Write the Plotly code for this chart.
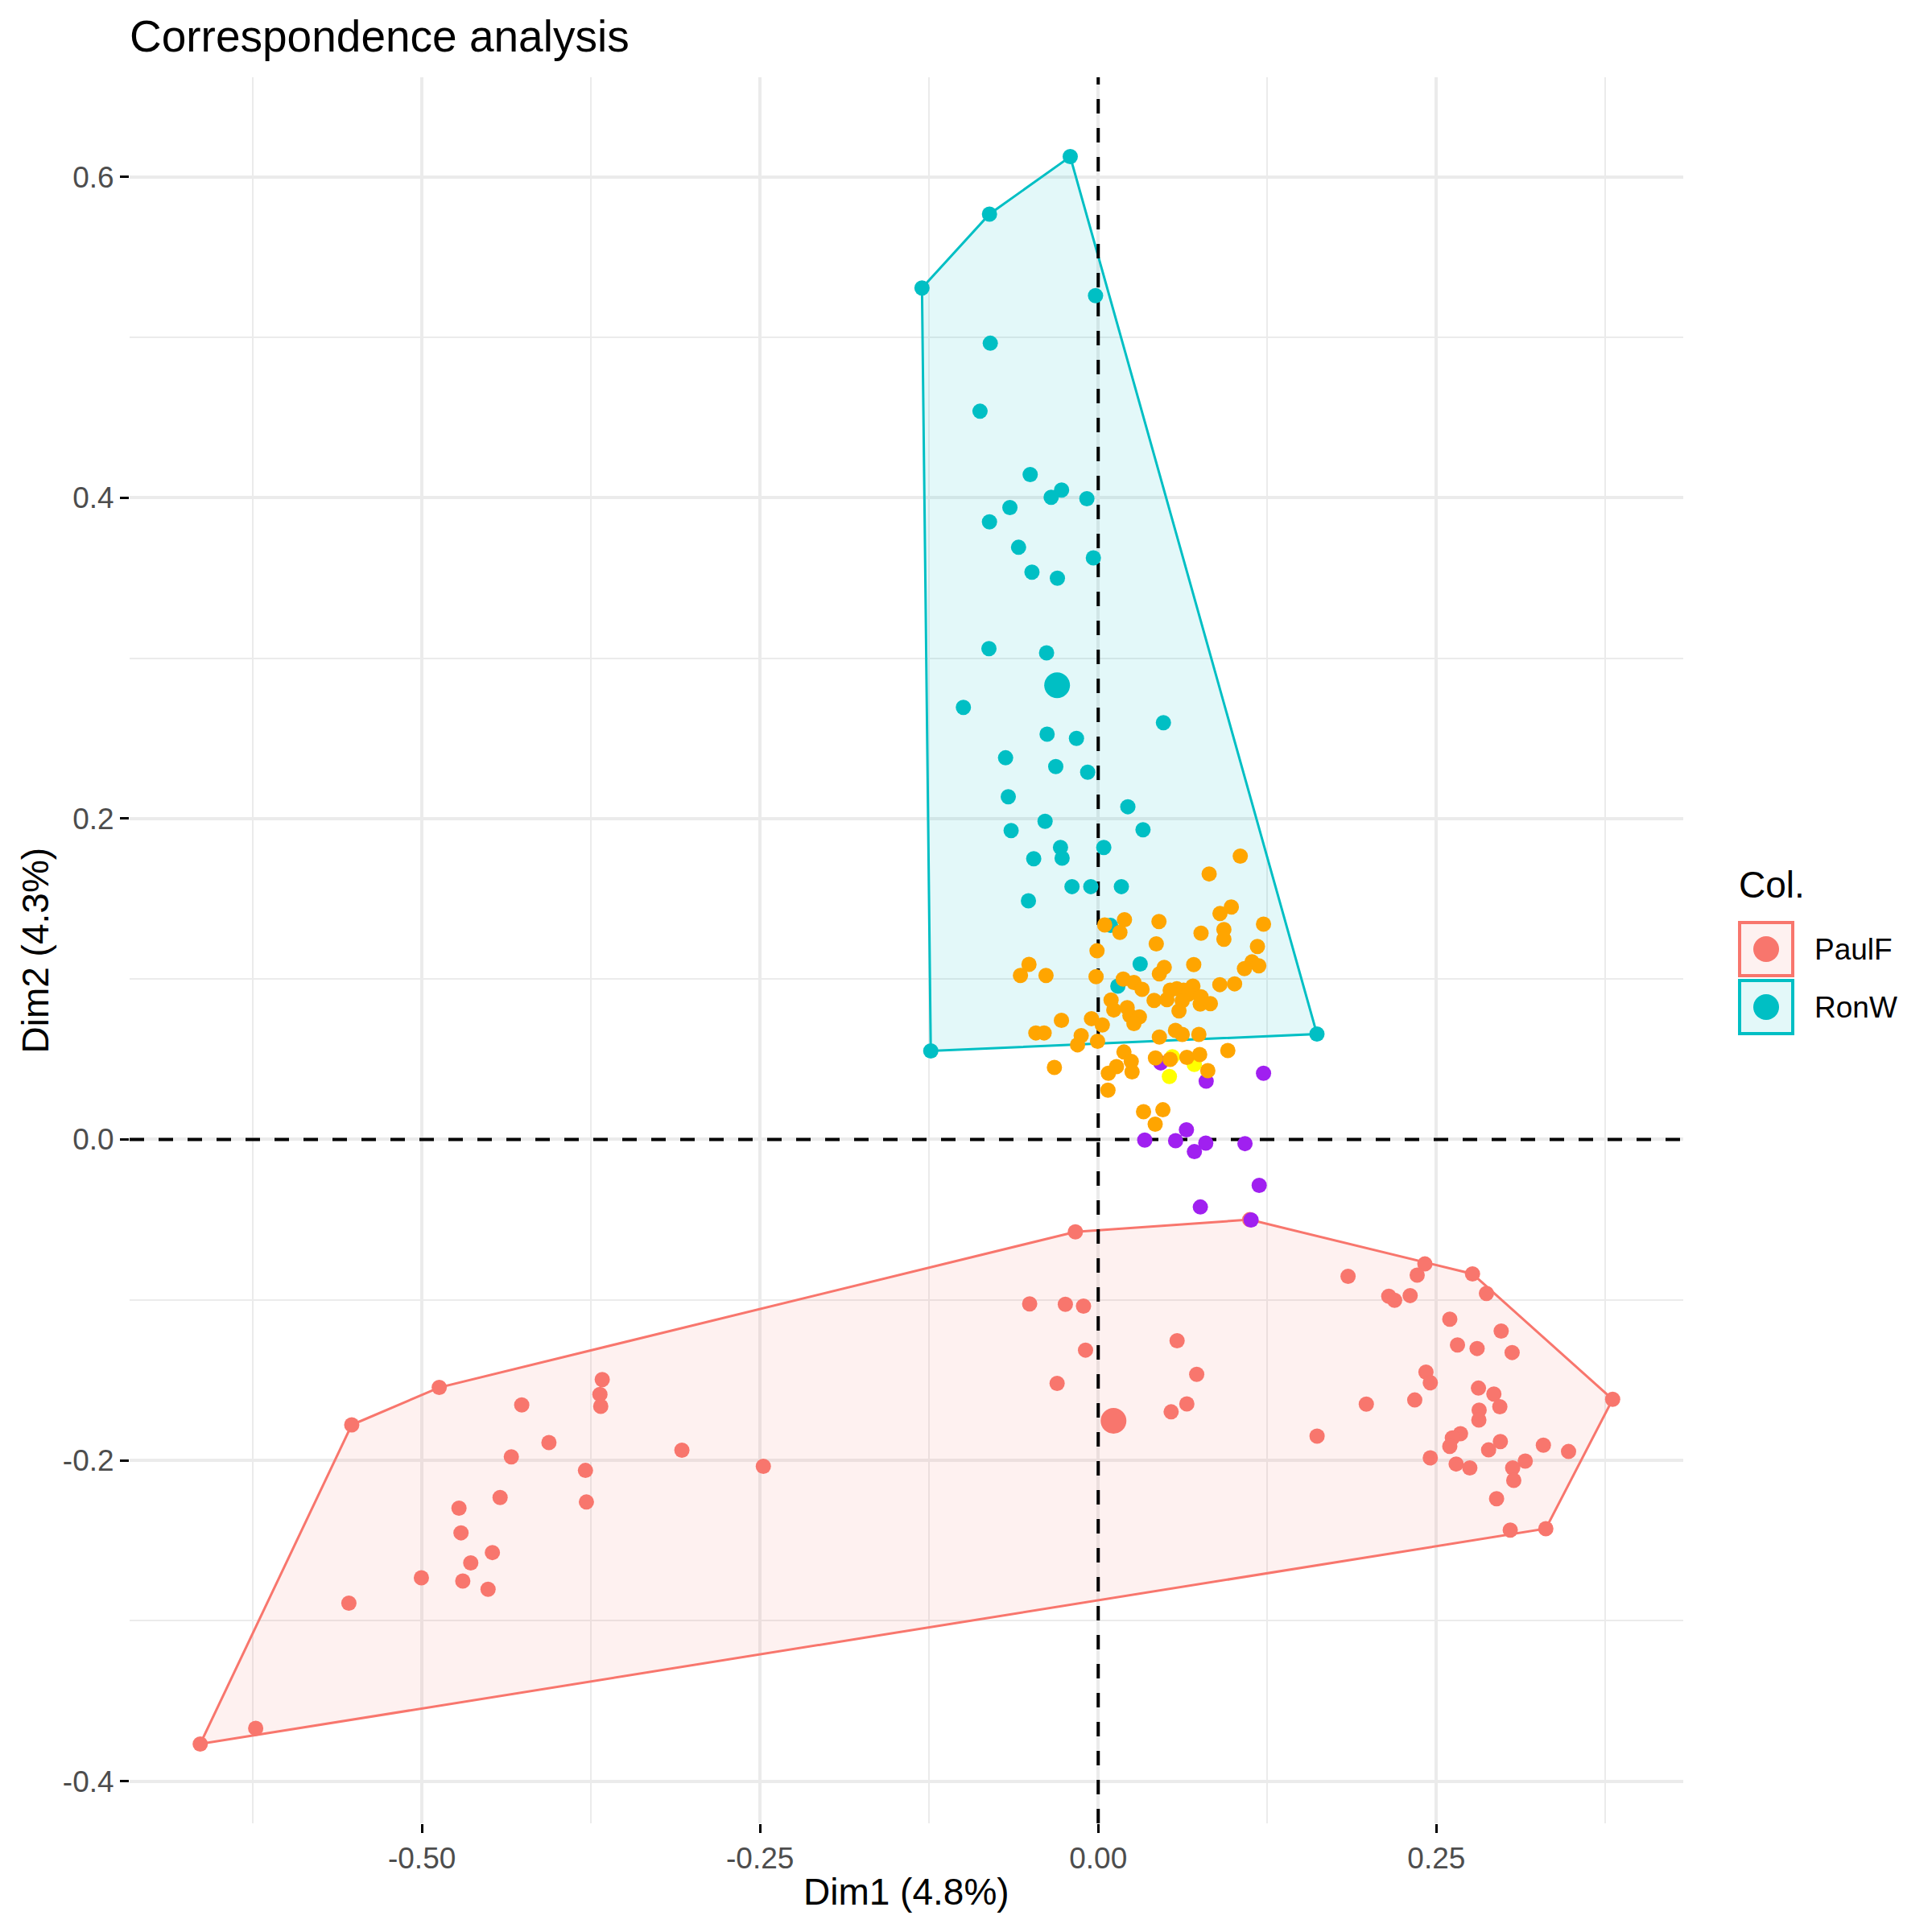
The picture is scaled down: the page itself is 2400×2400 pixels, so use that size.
import plotly.graph_objects as go

# --- Row coordinates, PaulF group ---
paulf_x = [-0.6639, -0.6229, -0.5519, -0.4872, -0.3667, -0.3684, -0.3678, -0.4262, -0.4061,
           -0.4339, -0.3791, -0.3784, -0.4422, -0.4726, -0.4711, -0.4479, -0.4639, -0.5004,
           -0.4698, -0.4511, -0.5540, -0.3078, -0.2476,
           -0.0169, -0.0507, -0.0243, -0.0109, -0.0094, 0.0583, -0.0304, 0.0728, 0.0655, 0.0539,
           0.1120,
           0.2415, 0.2767, 0.1847, 0.2358, 0.2148, 0.2191, 0.2306, 0.2870, 0.2599, 0.2979,
           0.2656, 0.2801, 0.3060, 0.2423, 0.2455, 0.2811, 0.2925, 0.2969, 0.3803, 0.1982,
           0.2340, 0.2816, 0.2814, 0.1618, 0.2678, 0.2618, 0.2599, 0.2455, 0.2973, 0.2886,
           0.3291, 0.3477, 0.2646, 0.2747, 0.3157, 0.3064, 0.3072, 0.2945, 0.3046, 0.3309]
paulf_y = [-0.3768, -0.3670, -0.1779, -0.1546, -0.1497, -0.1589, -0.1664, -0.1655, -0.1889,
           -0.1978, -0.2063, -0.2260, -0.2232, -0.2298, -0.2452, -0.2575, -0.2639, -0.2732,
           -0.2752, -0.2804, -0.2890, -0.1937, -0.2037,
           -0.0576, -0.1025, -0.1028, -0.1039, -0.1313, -0.1255, -0.1521, -0.1464, -0.1648, -0.1698,
           -0.0500,
           -0.0776, -0.0838, -0.0853, -0.0846, -0.0977, -0.1002, -0.0973, -0.0960, -0.1120, -0.1194,
           -0.1281, -0.1303, -0.1328, -0.1450, -0.1517, -0.1550, -0.1587, -0.1666, -0.1620, -0.1650,
           -0.1624, -0.1687, -0.1749, -0.1849, -0.1834, -0.1860, -0.1913, -0.1985, -0.1883, -0.1935,
           -0.1906, -0.1945, -0.2023, -0.2047, -0.2005, -0.2047, -0.2125, -0.2239, -0.2435, -0.2426]
paulf_mean_x = [0.0113]
paulf_mean_y = [-0.1754]

# --- Row coordinates, RonW group ---
ronw_x = [-0.0207, -0.0804, -0.1303, -0.0020, -0.0798, -0.0874, -0.0503, -0.0271, -0.0348,
          -0.0084, -0.0653, -0.0804, -0.0589, -0.0036, -0.0490, -0.0302, -0.0808, -0.0382,
          -0.0997, 0.0482, -0.0378, -0.0161, -0.0685, -0.0314, -0.0078, -0.0665,
          0.0219, -0.0644, -0.0393, 0.0331, -0.0279, 0.0041, -0.0477, -0.0267, -0.0194,
          -0.0055, 0.0171, -0.0516, 0.0091, 0.0310, 0.0145, -0.1238, 0.1617]
ronw_y = [0.6126, 0.5768, 0.5307, 0.5260, 0.4963, 0.4539, 0.4144, 0.4048, 0.4003,
          0.3994, 0.3939, 0.3850, 0.3691, 0.3625, 0.3536, 0.3498, 0.3059, 0.3033,
          0.2693, 0.2598, 0.2526, 0.2500, 0.2379, 0.2324, 0.2289, 0.2136,
          0.2074, 0.1925, 0.1983, 0.1930, 0.1820, 0.1820, 0.1750, 0.1754, 0.1576,
          0.1576, 0.1576, 0.1488, 0.1334, 0.1094, 0.0956, 0.0552, 0.0657]
ronw_mean_x = [-0.0304]
ronw_mean_y = [0.2831]

# --- Column coordinates ---
purple_x = [0.0462, 0.0798, 0.1222, 0.0652, 0.0344, 0.0572, 0.0795, 0.0711, 0.1085, 0.1190, 0.0755, 0.1130]
purple_y = [0.0477, 0.0363, 0.0413, 0.0060, -0.0004, -0.0008, -0.0023, -0.0076, -0.0026, -0.0286, -0.0421, -0.0502]

yellow_x = [0.0548, 0.0710, 0.0526]
yellow_y = [0.0516, 0.0468, 0.0392]

orange_x = [0.0194, 0.0048, 0.0160, 0.0449, 0.0429, 0.0760, 0.0929, 0.0929, 0.1222, 0.1177,
            0.0706, 0.0488, 0.0452, 0.1137, 0.1187, 0.1081, 0.0899, 0.1008,
            0.0185, 0.0264, 0.0324, 0.0095, 0.0115, 0.0214, 0.0234, 0.0304, 0.0264, 0.0413,
            0.0508, 0.0532, 0.0581, 0.0631, 0.0700, 0.0667, 0.0621, 0.0597, 0.0760, 0.0754,
            0.0829, 0.0452, 0.0571, 0.0621, 0.0744, 0.0958, 0.0190, 0.0244, 0.0250, 0.0135,
            0.0075, 0.0423, 0.0532, 0.0655, 0.0750, 0.0810,
            0.1050, 0.0820, 0.0984, 0.0900, -0.0009, -0.0512, -0.0575, -0.0386, -0.0016,
            -0.0272, -0.0050, 0.0030, -0.0461, -0.0400, -0.0126, -0.0153, -0.0005, -0.0324,
            0.0072, 0.0335, 0.0478, 0.0421]
orange_y = [0.1370, 0.1337, 0.1291, 0.1358, 0.1219, 0.1286, 0.1308, 0.1248, 0.1342, 0.1203,
            0.1090, 0.1073, 0.1032, 0.1107, 0.1082, 0.1065, 0.0965, 0.0970,
            0.1000, 0.0978, 0.0936, 0.0869, 0.0807, 0.0822, 0.0772, 0.0764, 0.0722, 0.0867,
            0.0872, 0.0931, 0.0940, 0.0931, 0.0956, 0.0906, 0.0864, 0.0801, 0.0889, 0.0844,
            0.0847, 0.0638, 0.0680, 0.0655, 0.0655, 0.0554, 0.0545, 0.0487, 0.0421, 0.0454,
            0.0413, 0.0508, 0.0499, 0.0512, 0.0529, 0.0429,
            0.1766, 0.1655, 0.1449, 0.1408, 0.1176, 0.1091, 0.1022, 0.1022, 0.1015,
            0.0742, 0.0753, 0.0714, 0.0664, 0.0664, 0.0647, 0.0590, 0.0612, 0.0449,
            0.0307, 0.0173, 0.0185, 0.0095]

x_tick_vals = [-0.5, -0.25, 0.0, 0.25]
x_tick_text = ["-0.50", "-0.25", "0.00", "0.25"]
x_minor_vals = [-0.625, -0.375, -0.125, 0.125, 0.375]
y_tick_vals = [-0.4, -0.2, 0.0, 0.2, 0.4, 0.6]
y_tick_text = ["-0.4", "-0.2", "0.0", "0.2", "0.4", "0.6"]
y_minor_vals = [-0.3, -0.1, 0.1, 0.3, 0.5]

PINK = "#F8766D"
TEAL = "#00BFC4"
FONT = "Liberation Sans, Arial, sans-serif"

# panel edges in pixels of the target picture; the page body adds ~8px
W = H = 2400
PAGE_OFFSET = 8
L, R, T, B = 161, 2091, 96, 2265


def paper_x(px):
    return (px - L) / (R - L)


def paper_y(py):
    return (B - py) / (B - T)


def convex_hull(xs, ys):
    """Monotone chain hull, returns closed polygon coords."""
    pts = sorted(set(zip(xs, ys)))

    def cross(o, a, b):
        return (a[0] - o[0]) * (b[1] - o[1]) - (a[1] - o[1]) * (b[0] - o[0])

    lower, upper = [], []
    for p in pts:
        while len(lower) >= 2 and cross(lower[-2], lower[-1], p) <= 0:
            lower.pop()
        lower.append(p)
    for p in reversed(pts):
        while len(upper) >= 2 and cross(upper[-2], upper[-1], p) <= 0:
            upper.pop()
        upper.append(p)
    hull = lower[:-1] + upper[:-1]
    hull.append(hull[0])
    return [p[0] for p in hull], [p[1] for p in hull]


# ggplot-like 5% expansion of the data range
all_x = paulf_x + ronw_x + purple_x + yellow_x + orange_x
all_y = paulf_y + ronw_y + purple_y + yellow_y + orange_y
xpad = (max(all_x) - min(all_x)) * 0.05
ypad = (max(all_y) - min(all_y)) * 0.05
x_range = [min(all_x) - xpad, max(all_x) + xpad]
y_range = [min(all_y) - ypad, max(all_y) + ypad]

fig = go.Figure()

# hull polygons
for xs, ys, col, fill in [(paulf_x, paulf_y, PINK, "rgba(248,118,109,0.1)"),
                          (ronw_x, ronw_y, TEAL, "rgba(0,191,196,0.11)")]:
    hx, hy = convex_hull(xs, ys)
    fig.add_trace(go.Scatter(x=hx, y=hy, mode="lines", fill="toself", fillcolor=fill,
                             line=dict(color=col, width=3), showlegend=False, hoverinfo="skip"))

# reference lines through the origin
fig.add_trace(go.Scatter(x=[0, 0], y=y_range, mode="lines", showlegend=False, hoverinfo="skip",
                         line=dict(color="black", width=4, dash="18px,18px")))
fig.add_trace(go.Scatter(x=x_range, y=[0, 0], mode="lines", showlegend=False, hoverinfo="skip",
                         line=dict(color="black", width=4, dash="18px,18px")))

# points
for xs, ys, col, size in [(paulf_x, paulf_y, PINK, 19),
                          (ronw_x, ronw_y, TEAL, 19),
                          (paulf_mean_x, paulf_mean_y, PINK, 32),
                          (ronw_mean_x, ronw_mean_y, TEAL, 32),
                          (purple_x, purple_y, "#A020F0", 19),
                          (yellow_x, yellow_y, "#FFFF00", 19),
                          (orange_x, orange_y, "#FFA500", 19)]:
    fig.add_trace(go.Scatter(x=xs, y=ys, mode="markers", showlegend=False,
                             marker=dict(color=col, size=size, line=dict(width=0))))

axis_common = dict(showline=False, zeroline=False, showgrid=True, gridcolor="#EBEBEB",
                   gridwidth=3.5, ticks="outside", ticklen=11, tickwidth=3, tickcolor="black",
                   tickfont=dict(family=FONT, size=37, color="#4D4D4D"))

fig.update_xaxes(range=x_range, tickmode="array", tickvals=x_tick_vals, ticktext=x_tick_text,
                 minor=dict(tickvals=x_minor_vals, showgrid=True, gridcolor="#EBEBEB",
                            gridwidth=1.8, ticks=""),
                 **axis_common)
fig.update_yaxes(range=y_range, tickmode="array", tickvals=y_tick_vals, ticktext=y_tick_text,
                 minor=dict(tickvals=y_minor_vals, showgrid=True, gridcolor="#EBEBEB",
                            gridwidth=1.8, ticks=""),
                 **axis_common)

annotations = [
    dict(text="Dim1 (4.8%)", x=0.5, y=paper_y(2350), xref="paper", yref="paper",
         xanchor="center", yanchor="middle", showarrow=False,
         font=dict(family=FONT, size=46, color="black")),
    dict(text="Dim2 (4.3%)", x=paper_x(43), y=0.5, xref="paper", yref="paper",
         xanchor="center", yanchor="middle", textangle=-90, showarrow=False,
         font=dict(family=FONT, size=46, color="black")),
    dict(text="Col.", x=paper_x(2158), y=paper_y(1099), xref="paper", yref="paper",
         xanchor="left", yanchor="middle", showarrow=False,
         font=dict(family=FONT, size=46, color="black")),
]

# hand-built legend keys (filled box + dot), like ggplot's polygon/point keys
shapes = []
legend_items = [("PaulF", PINK, "rgba(248,118,109,0.1)", 1144),
                ("RonW", TEAL, "rgba(0,191,196,0.11)", 1216)]
for name, col, fill, top in legend_items:
    shapes.append(dict(type="rect", xref="paper", yref="paper",
                       x0=paper_x(2161), x1=paper_x(2227), y0=paper_y(top + 68), y1=paper_y(top + 2),
                       line=dict(color=col, width=4), fillcolor=fill))
    cx, cy = 2194, top + 35
    shapes.append(dict(type="circle", xref="paper", yref="paper",
                       x0=paper_x(cx - 16), x1=paper_x(cx + 16), y0=paper_y(cy + 16), y1=paper_y(cy - 16),
                       line=dict(width=0), fillcolor=col))
    annotations.append(dict(text=name, x=paper_x(2252), y=paper_y(cy), xref="paper", yref="paper",
                            xanchor="left", yanchor="middle", showarrow=False,
                            font=dict(family=FONT, size=37, color="black")))

fig.update_layout(
    width=W, height=H,
    margin=dict(l=L - PAGE_OFFSET, r=W - R + PAGE_OFFSET,
                t=T - PAGE_OFFSET, b=H - B + PAGE_OFFSET),
    paper_bgcolor="white", plot_bgcolor="white",
    title=dict(text="Correspondence analysis", x=0, xref="paper", xanchor="left",
               y=1 - (45 - PAGE_OFFSET) / H, yref="container", yanchor="middle",
               font=dict(family=FONT, size=55, color="black")),
    annotations=annotations,
    shapes=shapes,
    showlegend=False,
)

fig.write_html("out.html")
